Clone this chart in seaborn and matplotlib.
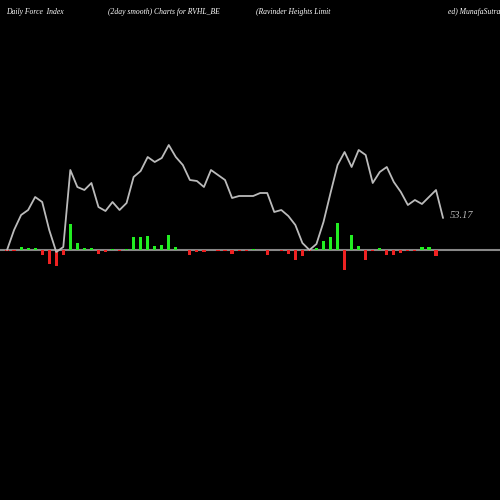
import numpy as np
import pandas as pd
import matplotlib
matplotlib.use("Agg")
import matplotlib.pyplot as plt
import seaborn as sns

# smoothed force index line (height above zero line)
force_line = [0, 20, 35, 40, 53, 48, 20, -2, 3, 80, 63, 60, 67, 43, 39, 48, 40, 47, 73, 79, 93, 88, 92, 105, 93, 85, 70, 69, 63, 80, 75, 70, 52, 54, 54,
              54, 57, 57, 38, 40, 34, 25, 7, 0, 6, 28, 57, 85, 98, 83, 100, 95, 67, 78, 83, 68, 58, 45, 50, 46, 53, 60, 32]
# daily force index bars
force_bars = [-0.5, -0.5, 3, 2, 2, -5, -14, -16, -5, 26, 7, 2, 2, -4, -2, 1, -0.5, 1, 13, 13, 14, 4, 5, 15, 3, 0.5, -5, -2, -2, 0.5, -1, -1, -4, -1,
              -1, 1, 0.5, -5, 0.5, -1, -4, -10, -6, -1, 2, 9, 13, 27, -20, 15, 4, -10, -1, 2, -5, -5, -3, -1, -1, 3, 3, -6]
last_label = "53.17"

df = pd.DataFrame({"i": np.arange(len(force_bars)), "bar": force_bars})
df["color"] = np.where(df["bar"] >= 0, "#22ee22", "#ee2222")

sns.set_style("dark")
fig = plt.figure(figsize=(5, 5), dpi=100, facecolor="black")
ax = fig.add_axes([0, 0, 1, 1])
ax.set_facecolor("black")

ax.axhline(0, color="#888888", lw=1.5, zorder=1)
ax.bar(df["i"], df["bar"], width=0.45, color=df["color"], edgecolor="none", linewidth=0, zorder=2)
sns.lineplot(x=np.arange(len(force_line)), y=force_line, ax=ax, color="#bbbbbb", lw=1.3, zorder=3)
ax.text(len(force_line), force_line[-1] + 2, last_label, color="#bbbbbb", fontsize=7.5,
        family="Liberation Serif", style="italic", va="center")

ax.set_xlim(-1.0, 70.1)
ax.set_ylim(-250, 250)
ax.axis("off")

for x, s in [(0.012, "Daily Force  Index"), (0.215, "(2day smooth) Charts for RVHL_BE"),
             (0.513, "(Ravinder Heights Limit"), (0.897, "ed) MunafaSutra.com")]:
    fig.text(x, 0.985, s, color="white", fontsize=5.5, family="Liberation Serif", style="italic", va="top")

fig.savefig("out.png", facecolor="black")
